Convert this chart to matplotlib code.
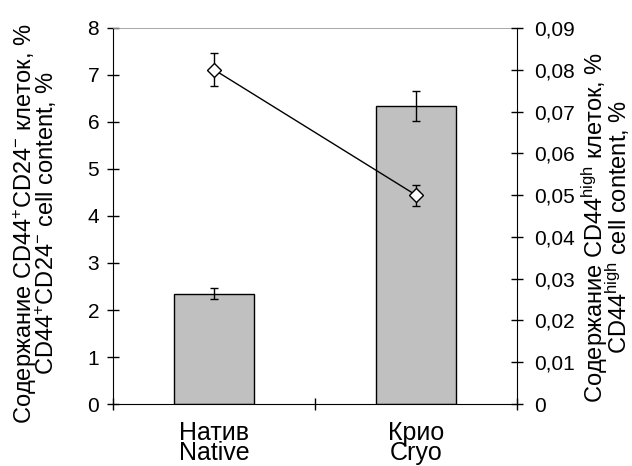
import numpy as np
import matplotlib.pyplot as plt

plt.rcParams['font.family'] = ['Liberation Sans', 'DejaVu Sans']
plt.rcParams['mathtext.fontset'] = 'custom'
plt.rcParams['mathtext.rm'] = 'Liberation Sans'
plt.rcParams['mathtext.it'] = 'Liberation Sans'

# data
groups = ['Натив\nNative', 'Крио\nCryo']
cd44_cd24 = [2.35, 6.34]
cd44_cd24_err = [0.11, 0.31]
cd44_high = [0.080, 0.050]
cd44_high_err = [0.0039, 0.0025]

x = np.arange(len(groups))

fig = plt.figure(figsize=(6.32, 4.66), dpi=100)
ax = fig.add_axes([0.179, 0.133, 0.639, 0.807])

ax.bar(x, cd44_cd24, width=0.4, color='#c0c0c0', edgecolor='black', linewidth=1)
ax.errorbar(x, cd44_cd24, yerr=cd44_cd24_err, fmt='none', ecolor='black',
            elinewidth=1, capsize=3, capthick=1)
ax.set_xlim(-0.5, 1.5)
ax.set_ylim(0, 8)
ax.set_yticks(range(0, 9))
ax.set_xticks([-0.5, 0.5, 1.5])
ax.set_xticklabels([])
ax.set_xticks(x, minor=True)
ax.set_xticklabels(groups, minor=True, fontsize=18, linespacing=0.8)
ax.tick_params(axis='x', which='minor', length=0, pad=12)
ax.tick_params(axis='x', which='major', direction='inout', length=8, width=1)
ax.tick_params(axis='y', direction='inout', length=8, width=1, labelsize=15, pad=6)
ax.spines['top'].set_color('#999999')
ax.spines['top'].set_linewidth(0.6)
ax.spines['right'].set_visible(False)
ax.set_ylabel('Содержание CD44$^{+}$CD24$^{-}$ клеток, %\nCD44$^{+}$CD24$^{-}$ cell content, %',
              fontsize=17, linespacing=0.74)
ax.yaxis.set_label_coords(-0.133, 0.48)

ax2 = ax.twinx()
ax2.errorbar(x, cd44_high, yerr=cd44_high_err, color='black', linewidth=1,
             marker='D', markersize=7, markerfacecolor='white', markeredgecolor='black',
             ecolor='black', elinewidth=1, capsize=3, capthick=1)
ax2.set_ylim(0, 0.09)
ticks2 = np.arange(0, 0.091, 0.01)
ax2.set_yticks(ticks2)
ax2.set_yticklabels(['0'] + [('%.2f' % t).replace('.', ',') for t in ticks2[1:]])
ax2.tick_params(axis='y', direction='inout', length=8, width=1, labelsize=15, pad=8)
ax2.spines['top'].set_visible(False)
ax2.spines['left'].set_visible(False)
ax2.spines['bottom'].set_visible(False)
ax2.set_ylabel('Содержание CD44$^{\\mathrm{high}}$ клеток, %\nCD44$^{\\mathrm{high}}$ cell content, %',
               fontsize=17, linespacing=0.72)
ax2.yaxis.set_label_coords(1.155, 0.47)

fig.savefig('out.png', dpi=100)
